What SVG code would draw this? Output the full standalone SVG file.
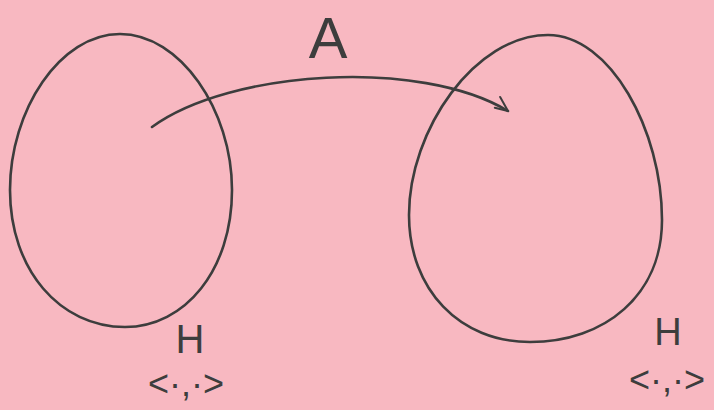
<svg xmlns="http://www.w3.org/2000/svg" width="714" height="410" viewBox="0 0 714 410">
<defs>
<style>
.ink{fill:none;stroke:#3d3d3d;stroke-width:2.6;stroke-linecap:round;stroke-linejoin:round}
.lbl{font-family:"Liberation Sans","DejaVu Sans",sans-serif;fill:#3d3d3d;text-anchor:middle}
</style>
<marker id="arr" viewBox="0 0 20 20" refX="16" refY="10" markerWidth="20" markerHeight="20" markerUnits="userSpaceOnUse" orient="auto">
<path d="M2 2 L16 10 L3 14" fill="none" stroke="#3d3d3d" stroke-width="2" stroke-linecap="round" stroke-linejoin="round"/>
</marker>
</defs>
<rect width="714" height="410" fill="#f8b8c1"/>
<g id="node-left">
<path class="ink" d="M120 34 C180 34 232 110 232 190 C232 270 185 327 125 327 C60 327 10 270 10 190 C10 110 60 34 120 34 Z"/>
<text class="lbl" x="190" y="353" font-size="40">H</text>
<text class="lbl" x="186" y="396" font-size="36">&lt;·,·&gt;</text>
</g>
<g id="node-right">
<path class="ink" d="M548 35 C610 35 662 130 662 220 C662 295 605 342 530 342 C460 342 409 290 409 215 C409 130 475 35 548 35 Z"/>
<text class="lbl" x="668" y="345" font-size="38">H</text>
<text class="lbl" x="667" y="392" font-size="36">&lt;·,·&gt;</text>
</g>
<g id="connectors">
<path class="ink" stroke-width="1.8" d="M152 127 C230 70 420 58 508 111" marker-end="url(#arr)"/>
<text class="lbl" x="328" y="58" font-size="58" font-weight="300">A</text>
</g>
</svg>
